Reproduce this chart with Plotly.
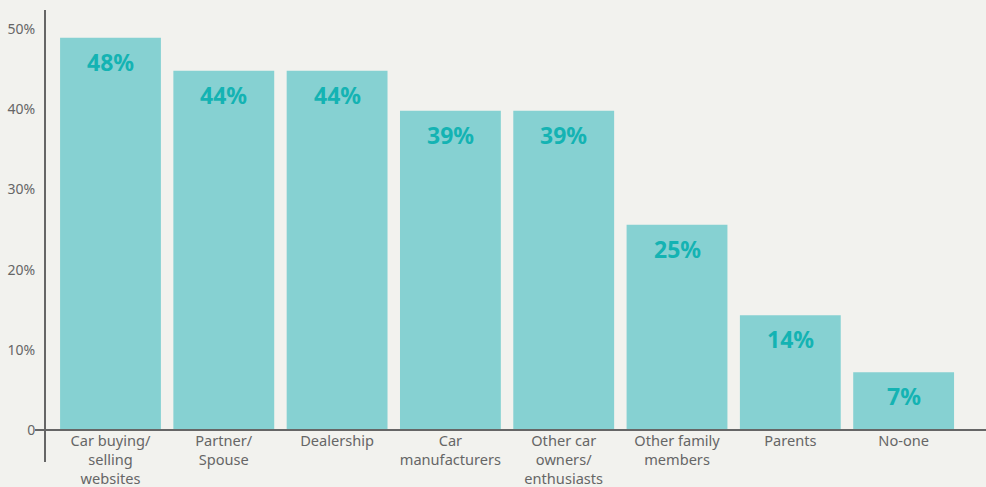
import plotly.graph_objects as go

categories = ["Car buying/<br>selling<br>websites", "Partner/<br>Spouse", "Dealership",
              "Car<br>manufacturers", "Other car<br>owners/<br>enthusiasts",
              "Other family<br>members", "Parents", "No-one"]
values = [48.9, 44.8, 44.8, 39.8, 39.8, 25.6, 14.3, 7.2]
labels = ["48%", "44%", "44%", "39%", "39%", "25%", "14%", "7%"]
tick_vals = [0, 10, 20, 30, 40, 50]
tick_text = ["0", "10%", "20%", "30%", "40%", "50%"]

BG = "#f2f2ee"
BAR = "#86d1d2"
LABEL = "#14b3b3"
AXIS = "#666666"
FONT = "Noto Sans"

x_idx = list(range(len(categories)))

fig = go.Figure()
fig.add_trace(go.Bar(x=x_idx, y=values, marker=dict(color=BAR, line=dict(width=0)),
                     width=0.89, hoverinfo="skip"))

for i, (v, t) in enumerate(zip(values, labels)):
    fig.add_annotation(x=i, y=v, text=t, showarrow=False, yanchor="middle", yshift=-24,
                       font=dict(family=FONT, size=23, color=LABEL, weight="bold"))

# axis lines
fig.add_shape(type="line", xref="paper", yref="paper", x0=-0.0106, x1=1, y0=0, y1=0,
              line=dict(color=AXIS, width=2))
fig.add_shape(type="line", xref="paper", yref="paper", x0=0, x1=0, y0=-0.076, y1=1,
              line=dict(color=AXIS, width=2))

fig.update_layout(
    width=986, height=487,
    margin=dict(l=45, r=0, t=10, b=57),
    paper_bgcolor=BG, plot_bgcolor=BG,
    showlegend=False,
    font=dict(family=FONT, color=AXIS),
    xaxis=dict(range=[-0.578, 7.727], tickmode="array", tickvals=x_idx, ticktext=categories,
               showgrid=False, zeroline=False, showline=False, ticks="",
               automargin=False,
               tickfont=dict(size=14.6, color=AXIS, family=FONT), fixedrange=True),
    yaxis=dict(range=[0, 52.37], tickmode="array", tickvals=tick_vals, ticktext=tick_text,
               showgrid=False, zeroline=False, showline=False, ticks="outside", ticklen=6,
               tickcolor="rgba(0,0,0,0)", tickfont=dict(size=14, color=AXIS, family=FONT),
               automargin=False, fixedrange=True),
)

fig.write_html("out.html", config={"displayModeBar": False},
               post_script="document.body.style.margin='0';document.body.style.overflow='hidden';")
